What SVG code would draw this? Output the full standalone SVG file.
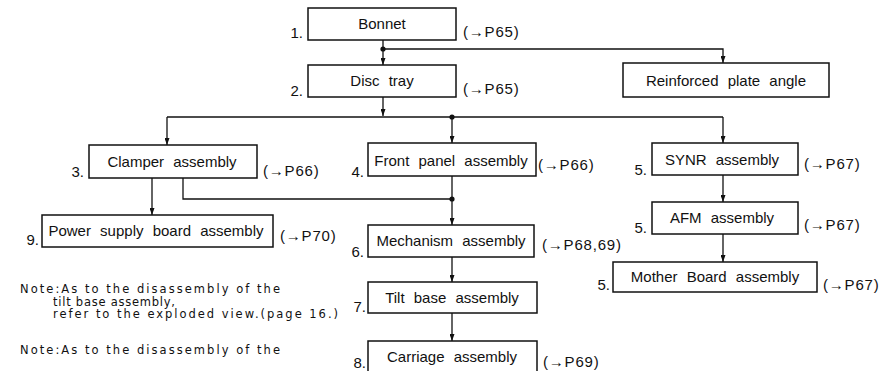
<svg xmlns="http://www.w3.org/2000/svg" width="891" height="371" viewBox="0 0 891 371">
<defs>
<style>
.box{fill:#fff;stroke:#111;stroke-width:1.5}
.lbl{font-family:"Liberation Sans",Arial,sans-serif;font-size:15px;fill:#111;text-anchor:middle;word-spacing:5px}
.num{font-family:"Liberation Sans",Arial,sans-serif;font-size:15px;fill:#111;text-anchor:end}
.ref{font-family:"Liberation Sans",Arial,sans-serif;font-size:15px;fill:#111;letter-spacing:0.8px}
.note{font-family:"DejaVu Sans","Liberation Sans",sans-serif;font-size:11.5px;fill:#111}
.ln{fill:none;stroke:#111;stroke-width:1.3}
.dot{fill:#111}
</style>
<marker id="arr" viewBox="0 0 10 10" refX="10" refY="5" markerWidth="7" markerHeight="5" markerUnits="userSpaceOnUse" orient="auto" preserveAspectRatio="none">
<path d="M0,0 L10,5 L0,10 z" fill="#111"/>
</marker>
</defs>
<rect width="891" height="371" fill="#fff"/>

<g id="connectors">
<path class="ln" d="M383,40 V49"/>
<path class="ln" d="M383,49 V65" marker-end="url(#arr)"/>
<path class="ln" d="M383,49 H723 V63" marker-end="url(#arr)"/>
<path class="ln" d="M383,97 V116" marker-end="url(#arr)"/>
<path class="ln" d="M167,117 H723"/>
<path class="ln" d="M167,117 V145" marker-end="url(#arr)"/>
<path class="ln" d="M452,117 V143" marker-end="url(#arr)"/>
<path class="ln" d="M723,117 V143" marker-end="url(#arr)"/>
<path class="ln" d="M152,178 V215" marker-end="url(#arr)"/>
<path class="ln" d="M183,178 V199 H452"/>
<path class="ln" d="M452,176 V225" marker-end="url(#arr)"/>
<path class="ln" d="M452,257 V282" marker-end="url(#arr)"/>
<path class="ln" d="M452,313 V341" marker-end="url(#arr)"/>
<path class="ln" d="M723,175 V202" marker-end="url(#arr)"/>
<path class="ln" d="M723,234 V262" marker-end="url(#arr)"/>
<circle class="dot" cx="383" cy="49" r="2.6"/>
<circle class="dot" cx="452" cy="117" r="2.6"/>
<circle class="dot" cx="452" cy="199" r="2.6"/>
</g>

<g id="bonnet">
<rect class="box" x="308" y="8" width="148" height="32"/>
<text class="lbl" x="382" y="29">Bonnet</text>
<text class="num" x="303" y="38">1.</text>
<text class="ref" x="463" y="37">(→P65)</text>
</g>

<g id="disc-tray">
<rect class="box" x="308" y="65" width="148" height="32"/>
<text class="lbl" x="382" y="86">Disc tray</text>
<text class="num" x="303" y="96">2.</text>
<text class="ref" x="463" y="94">(→P65)</text>
</g>

<g id="reinforced">
<rect class="box" x="623" y="63" width="206" height="34"/>
<text class="lbl" x="726" y="86">Reinforced plate angle</text>
</g>

<g id="clamper">
<rect class="box" x="89" y="145" width="168" height="33"/>
<text class="lbl" x="172" y="167">Clamper assembly</text>
<text class="num" x="84" y="177">3.</text>
<text class="ref" x="263" y="176">(→P66)</text>
</g>

<g id="front-panel">
<rect class="box" x="368" y="143" width="168" height="33"/>
<text class="lbl" x="451" y="166">Front panel assembly</text>
<text class="num" x="364" y="177">4.</text>
<text class="ref" x="538" y="170">(→P66)</text>
</g>

<g id="synr">
<rect class="box" x="652" y="143" width="146" height="32"/>
<text class="lbl" x="722" y="165">SYNR assembly</text>
<text class="num" x="647" y="175">5.</text>
<text class="ref" x="804" y="169">(→P67)</text>
</g>

<g id="power-supply">
<rect class="box" x="42" y="215" width="231" height="32"/>
<text class="lbl" x="156" y="236">Power supply board assembly</text>
<text class="num" x="39" y="245">9.</text>
<text class="ref" x="280" y="241">(→P70)</text>
</g>

<g id="afm">
<rect class="box" x="652" y="202" width="146" height="32"/>
<text class="lbl" x="722" y="223">AFM assembly</text>
<text class="num" x="647" y="233">5.</text>
<text class="ref" x="804" y="230">(→P67)</text>
</g>

<g id="mechanism">
<rect class="box" x="368" y="225" width="166" height="32"/>
<text class="lbl" x="451" y="246">Mechanism assembly</text>
<text class="num" x="364" y="257">6.</text>
<text class="ref" x="542" y="250">(→P68,69)</text>
</g>

<g id="mother-board">
<rect class="box" x="613" y="262" width="204" height="30"/>
<text class="lbl" x="715" y="282">Mother Board assembly</text>
<text class="num" x="610" y="290">5.</text>
<text class="ref" x="823" y="290">(→P67)</text>
</g>

<g id="tilt-base">
<rect class="box" x="368" y="282" width="169" height="31"/>
<text class="lbl" x="452" y="303">Tilt base assembly</text>
<text class="num" x="366" y="312">7.</text>
</g>

<g id="carriage">
<rect class="box" x="368" y="341" width="169" height="40"/>
<text class="lbl" x="452" y="362">Carriage assembly</text>
<text class="num" x="366" y="368">8.</text>
<text class="ref" x="543" y="367">(→P69)</text>
</g>

<g id="notes">
<text class="note" x="20" y="293" textLength="260" lengthAdjust="spacing">Note:As to the disassembly of the</text>
<text class="note" x="53" y="305.5" textLength="122" lengthAdjust="spacing">tilt base assembly,</text>
<text class="note" x="53" y="318" textLength="285" lengthAdjust="spacing">refer to the exploded view.(page 16.)</text>
<text class="note" x="20" y="354" textLength="260" lengthAdjust="spacing">Note:As to the disassembly of the</text>
</g>
</svg>
